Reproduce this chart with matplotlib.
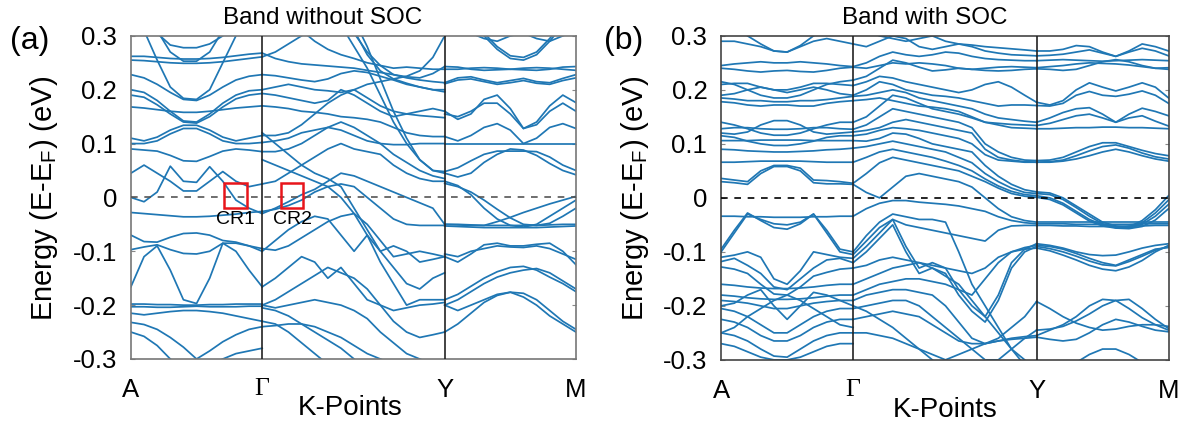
import matplotlib
matplotlib.use('Agg')
import matplotlib.pyplot as plt
from matplotlib.patches import Rectangle

# path distance of the high-symmetry points A, Γ, Y, M
k_nodes = [0.0, 1.0, 2.39, 3.39]
k_labels = ['A', 'Γ', 'Y', 'M']

# k samples along each segment
k_ag = [0.0, 0.1, 0.2, 0.3, 0.4, 0.5, 0.6, 0.7, 0.8, 0.9, 1.0]
k_gy = [1.0, 1.1, 1.2, 1.3, 1.4, 1.5, 1.6, 1.7, 1.8, 1.9, 2.0, 2.1, 2.2, 2.3, 2.39]
k_ym = [2.39, 2.49, 2.59, 2.69, 2.79, 2.89, 2.99, 3.09, 3.19, 3.29, 3.39]

# ---- bands without SOC (eV relative to E_F) ----
ag_nosoc = [
    [0.40, 0.36, 0.31, 0.27, 0.253, 0.253, 0.27, 0.31, 0.36, 0.40, 0.45],
    [0.37, 0.33, 0.305, 0.283, 0.278, 0.278, 0.285, 0.30, 0.33, 0.37, 0.40],
    [0.262, 0.262, 0.26, 0.258, 0.257, 0.257, 0.258, 0.26, 0.263, 0.266, 0.268],
    [0.255, 0.254, 0.252, 0.25, 0.249, 0.249, 0.25, 0.252, 0.255, 0.258, 0.261],
    [0.228, 0.222, 0.21, 0.195, 0.182, 0.18, 0.19, 0.205, 0.218, 0.225, 0.228],
    [0.36, 0.31, 0.255, 0.205, 0.184, 0.182, 0.20, 0.25, 0.30, 0.35, 0.40],
    [0.20, 0.195, 0.18, 0.16, 0.142, 0.14, 0.155, 0.175, 0.19, 0.198, 0.20],
    [0.19, 0.186, 0.172, 0.155, 0.14, 0.138, 0.15, 0.168, 0.183, 0.19, 0.193],
    [0.168, 0.166, 0.163, 0.16, 0.158, 0.158, 0.16, 0.163, 0.166, 0.168, 0.17],
    [0.11, 0.105, 0.112, 0.125, 0.134, 0.134, 0.125, 0.112, 0.105, 0.11, 0.115],
    [0.10, 0.10, 0.105, 0.118, 0.128, 0.128, 0.118, 0.105, 0.10, 0.10, 0.102],
    [0.09, 0.088, 0.086, 0.078, 0.068, 0.067, 0.076, 0.086, 0.09, 0.088, 0.085],
    [0.0, -0.008, 0.01, 0.058, 0.03, 0.028, 0.057, 0.03, -0.005, -0.02, -0.03],
    [0.045, 0.06, 0.045, 0.03, 0.012, 0.012, 0.03, 0.048, 0.03, 0.02, 0.025],
    [-0.028, -0.03, -0.032, -0.034, -0.036, -0.036, -0.035, -0.033, -0.031, -0.028, -0.026],
    [-0.07, -0.082, -0.083, -0.074, -0.067, -0.066, -0.07, -0.08, -0.083, -0.09, -0.10],
    [-0.097, -0.092, -0.088, -0.097, -0.104, -0.105, -0.10, -0.085, -0.085, -0.09, -0.095],
    [-0.166, -0.11, -0.09, -0.135, -0.19, -0.197, -0.15, -0.085, -0.10, -0.135, -0.166],
    [-0.198, -0.198, -0.199, -0.199, -0.2, -0.2, -0.199, -0.199, -0.198, -0.198, -0.198],
    [-0.203, -0.203, -0.204, -0.204, -0.203, -0.202, -0.203, -0.203, -0.203, -0.202, -0.202],
    [-0.215, -0.218, -0.215, -0.212, -0.21, -0.21, -0.212, -0.215, -0.22, -0.225, -0.23],
    [-0.232, -0.236, -0.245, -0.26, -0.278, -0.30, -0.32, -0.34, -0.36, -0.38, -0.40],
    [-0.25, -0.258, -0.275, -0.30, -0.32, -0.34, -0.36, -0.38, -0.40, -0.42, -0.44],
    [-0.40, -0.38, -0.36, -0.34, -0.32, -0.30, -0.285, -0.268, -0.255, -0.245, -0.24],
    [-0.42, -0.40, -0.38, -0.36, -0.34, -0.32, -0.31, -0.30, -0.29, -0.285, -0.28],
]

gy_nosoc = [
    [0.268, 0.258, 0.252, 0.248, 0.246, 0.244, 0.242, 0.24, 0.236, 0.232, 0.228, 0.224, 0.222, 0.23, 0.243],
    [0.261, 0.27, 0.285, 0.30, 0.318, 0.335, 0.35, 0.36, 0.37, 0.38, 0.39, 0.40, 0.41, 0.42, 0.43],
    [0.42, 0.39, 0.35, 0.31, 0.29, 0.275, 0.265, 0.258, 0.25, 0.245, 0.24, 0.242, 0.24, 0.238, 0.238],
    [0.45, 0.44, 0.43, 0.41, 0.39, 0.37, 0.34, 0.305, 0.27, 0.245, 0.228, 0.222, 0.218, 0.215, 0.213],
    [0.228, 0.226, 0.222, 0.218, 0.215, 0.22, 0.23, 0.235, 0.232, 0.225, 0.218, 0.21, 0.205, 0.20, 0.20],
    [0.50, 0.48, 0.45, 0.42, 0.39, 0.37, 0.34, 0.31, 0.265, 0.235, 0.22, 0.212, 0.205, 0.20, 0.196],
    [0.20, 0.205, 0.21, 0.205, 0.20, 0.198, 0.195, 0.20, 0.21, 0.215, 0.22, 0.225, 0.235, 0.26, 0.30],
    [0.193, 0.19, 0.185, 0.18, 0.175, 0.18, 0.20, 0.19, 0.175, 0.16, 0.15, 0.155, 0.16, 0.165, 0.16],
    [0.17, 0.168, 0.165, 0.16, 0.158, 0.155, 0.15, 0.148, 0.145, 0.14, 0.13, 0.12, 0.115, 0.113, 0.113],
    [0.115, 0.115, 0.12, 0.135, 0.155, 0.175, 0.19, 0.20, 0.185, 0.17, 0.16, 0.155, 0.152, 0.15, 0.148],
    [0.102, 0.105, 0.11, 0.12, 0.125, 0.13, 0.125, 0.115, 0.105, 0.10, 0.098, 0.098, 0.10, 0.10, 0.10],
    [0.085, 0.085, 0.09, 0.10, 0.115, 0.13, 0.14, 0.13, 0.115, 0.10, 0.08, 0.065, 0.05, 0.04, 0.035],
    [0.025, 0.03, 0.045, 0.06, 0.075, 0.09, 0.10, 0.09, 0.085, 0.08, 0.06, 0.045, 0.035, 0.03, 0.03],
    [-0.03, -0.02, -0.008, 0.005, 0.015, 0.03, 0.045, 0.04, 0.03, 0.02, 0.01, 0.0, -0.01, -0.02, -0.05],
    [-0.026, -0.022, -0.015, -0.005, 0.01, 0.02, 0.025, 0.02, 0.0, -0.02, -0.04, -0.05, -0.052, -0.052, -0.052],
    [-0.10, -0.08, -0.06, -0.045, -0.035, -0.04, -0.07, -0.10, -0.07, -0.10, -0.13, -0.16, -0.17, -0.15, -0.14],
    [-0.095, -0.098, -0.09, -0.075, -0.06, -0.045, -0.035, -0.03, -0.05, -0.08, -0.11, -0.105, -0.10, -0.105, -0.11],
    [-0.166, -0.15, -0.13, -0.11, -0.12, -0.15, -0.13, -0.16, -0.19, -0.20, -0.21, -0.205, -0.20, -0.198, -0.195],
    [-0.20, -0.19, -0.175, -0.16, -0.145, -0.13, -0.14, -0.15, -0.17, -0.20, -0.23, -0.25, -0.26, -0.255, -0.25],
    [-0.20, -0.205, -0.20, -0.195, -0.19, -0.195, -0.20, -0.21, -0.225, -0.25, -0.27, -0.29, -0.30, -0.31, -0.32],
    [-0.205, -0.21, -0.22, -0.235, -0.25, -0.265, -0.28, -0.30, -0.32, -0.34, -0.36, -0.38, -0.40, -0.42, -0.44],
    [-0.23, -0.235, -0.25, -0.27, -0.29, -0.31, -0.33, -0.35, -0.37, -0.39, -0.41, -0.43, -0.45, -0.47, -0.49],
    [-0.24, -0.238, -0.235, -0.235, -0.24, -0.25, -0.26, -0.275, -0.29, -0.30, -0.31, -0.32, -0.33, -0.34, -0.35],
    [0.45, 0.43, 0.41, 0.39, 0.37, 0.35, 0.32, 0.28, 0.24, 0.19, 0.14, 0.10, 0.07, 0.05, 0.048],
    [0.50, 0.48, 0.46, 0.44, 0.42, 0.40, 0.37, 0.33, 0.28, 0.22, 0.16, 0.11, 0.07, 0.05, 0.045],
    [0.12, 0.10, 0.08, 0.06, 0.045, 0.035, 0.02, -0.02, -0.06, -0.10, -0.09, -0.10, -0.12, -0.115, -0.11],
    [0.07, 0.06, 0.05, 0.04, 0.03, 0.02, 0.0, -0.03, -0.07, -0.12, -0.16, -0.20, -0.19, -0.19, -0.19],
]

ym_nosoc = [
    [0.38, 0.36, 0.33, 0.30, 0.275, 0.258, 0.255, 0.265, 0.29, 0.32, 0.35],
    [0.385, 0.365, 0.335, 0.305, 0.28, 0.263, 0.26, 0.27, 0.295, 0.325, 0.355],
    [0.32, 0.31, 0.305, 0.295, 0.29, 0.30, 0.305, 0.295, 0.29, 0.30, 0.31],
    [0.243, 0.242, 0.238, 0.236, 0.237, 0.238, 0.237, 0.236, 0.238, 0.242, 0.243],
    [0.238, 0.238, 0.24, 0.241, 0.24, 0.238, 0.24, 0.241, 0.24, 0.238, 0.236],
    [0.213, 0.222, 0.224, 0.218, 0.213, 0.217, 0.221, 0.215, 0.213, 0.221, 0.228],
    [0.211, 0.218, 0.22, 0.215, 0.21, 0.213, 0.217, 0.212, 0.21, 0.217, 0.222],
    [0.16, 0.145, 0.155, 0.182, 0.19, 0.165, 0.128, 0.14, 0.17, 0.19, 0.176],
    [0.155, 0.15, 0.16, 0.175, 0.175, 0.155, 0.128, 0.135, 0.16, 0.175, 0.16],
    [0.113, 0.105, 0.115, 0.13, 0.137, 0.125, 0.10, 0.11, 0.13, 0.137, 0.128],
    [0.10, 0.10, 0.10, 0.10, 0.10, 0.10, 0.10, 0.10, 0.10, 0.10, 0.10],
    [0.048, 0.055, 0.068, 0.08, 0.086, 0.086, 0.086, 0.085, 0.075, 0.06, 0.05],
    [0.045, 0.038, 0.045, 0.065, 0.08, 0.09, 0.088, 0.078, 0.063, 0.05, 0.042],
    [0.03, 0.022, 0.005, -0.02, -0.04, -0.052, -0.055, -0.05, -0.035, -0.02, -0.005],
    [0.026, 0.02, 0.01, -0.005, -0.022, -0.038, -0.05, -0.052, -0.048, -0.035, -0.02],
    [-0.05, -0.051, -0.052, -0.052, -0.045, -0.037, -0.028, -0.02, -0.012, -0.005, 0.002],
    [-0.05, -0.05, -0.051, -0.052, -0.052, -0.052, -0.052, -0.052, -0.051, -0.05, -0.05],
    [-0.053, -0.054, -0.055, -0.056, -0.056, -0.056, -0.056, -0.056, -0.055, -0.054, -0.053],
    [-0.11, -0.12, -0.105, -0.088, -0.085, -0.09, -0.09, -0.087, -0.085, -0.10, -0.125],
    [-0.105, -0.11, -0.10, -0.095, -0.09, -0.092, -0.093, -0.09, -0.095, -0.105, -0.115],
    [-0.19, -0.18, -0.165, -0.15, -0.138, -0.13, -0.128, -0.135, -0.148, -0.16, -0.175],
    [-0.20, -0.19, -0.175, -0.16, -0.148, -0.14, -0.135, -0.132, -0.14, -0.155, -0.17],
    [-0.25, -0.235, -0.215, -0.195, -0.182, -0.176, -0.178, -0.19, -0.21, -0.23, -0.245],
    [-0.20, -0.21, -0.20, -0.19, -0.18, -0.176, -0.185, -0.20, -0.22, -0.235, -0.25],
]

# ---- bands with SOC ----
ag_soc = [
    [0.33, 0.32, 0.30, 0.285, 0.272, 0.27, 0.282, 0.30, 0.315, 0.325, 0.33],
    [0.29, 0.29, 0.285, 0.28, 0.272, 0.27, 0.28, 0.29, 0.295, 0.29, 0.285],
    [0.245, 0.248, 0.25, 0.252, 0.25, 0.25, 0.252, 0.25, 0.248, 0.245, 0.243],
    [0.24, 0.238, 0.235, 0.233, 0.235, 0.236, 0.234, 0.233, 0.236, 0.24, 0.242],
    [0.215, 0.21, 0.20, 0.19, 0.185, 0.185, 0.19, 0.20, 0.21, 0.215, 0.218],
    [0.21, 0.212, 0.212, 0.205, 0.20, 0.20, 0.205, 0.212, 0.212, 0.21, 0.208],
    [0.19, 0.193, 0.20, 0.205, 0.20, 0.195, 0.20, 0.205, 0.20, 0.193, 0.19],
    [0.185, 0.183, 0.18, 0.18, 0.178, 0.178, 0.18, 0.18, 0.182, 0.185, 0.188],
    [0.178, 0.176, 0.172, 0.17, 0.172, 0.172, 0.17, 0.17, 0.175, 0.178, 0.18],
    [0.12, 0.118, 0.122, 0.135, 0.143, 0.143, 0.135, 0.122, 0.118, 0.12, 0.122],
    [0.14, 0.135, 0.128, 0.12, 0.116, 0.116, 0.12, 0.128, 0.135, 0.14, 0.14],
    [0.128, 0.13, 0.13, 0.128, 0.127, 0.127, 0.128, 0.13, 0.13, 0.128, 0.127],
    [0.106, 0.106, 0.106, 0.107, 0.107, 0.107, 0.107, 0.106, 0.106, 0.106, 0.106],
    [0.115, 0.112, 0.105, 0.10, 0.097, 0.097, 0.10, 0.105, 0.112, 0.115, 0.115],
    [0.09, 0.089, 0.087, 0.086, 0.085, 0.085, 0.086, 0.087, 0.089, 0.09, 0.092],
    [0.066, 0.066, 0.067, 0.068, 0.068, 0.068, 0.068, 0.067, 0.066, 0.066, 0.066],
    [0.036, 0.033, 0.03, 0.05, 0.06, 0.06, 0.055, 0.033, 0.032, 0.03, 0.027],
    [0.03, 0.028, 0.025, 0.045, 0.058, 0.058, 0.05, 0.028, 0.026, 0.026, 0.025],
    [-0.034, -0.034, -0.035, -0.035, -0.036, -0.036, -0.036, -0.035, -0.035, -0.034, -0.034],
    [-0.095, -0.06, -0.028, -0.042, -0.055, -0.058, -0.048, -0.03, -0.06, -0.095, -0.10],
    [-0.10, -0.065, -0.03, -0.04, -0.048, -0.05, -0.045, -0.03, -0.065, -0.10, -0.105],
    [-0.11, -0.106, -0.10, -0.11, -0.15, -0.16, -0.135, -0.10, -0.105, -0.11, -0.112],
    [-0.118, -0.112, -0.125, -0.14, -0.165, -0.17, -0.15, -0.13, -0.115, -0.112, -0.12],
    [-0.128, -0.132, -0.14, -0.16, -0.178, -0.18, -0.165, -0.145, -0.138, -0.132, -0.13],
    [-0.16, -0.162, -0.165, -0.167, -0.168, -0.168, -0.167, -0.165, -0.162, -0.16, -0.16],
    [-0.18, -0.182, -0.185, -0.187, -0.188, -0.188, -0.187, -0.185, -0.182, -0.18, -0.18],
    [-0.20, -0.195, -0.18, -0.17, -0.20, -0.225, -0.20, -0.175, -0.18, -0.19, -0.20],
    [-0.25, -0.24, -0.22, -0.205, -0.19, -0.18, -0.19, -0.205, -0.22, -0.235, -0.24],
    [-0.19, -0.192, -0.195, -0.20, -0.205, -0.205, -0.20, -0.195, -0.192, -0.19, -0.19],
    [-0.205, -0.21, -0.22, -0.235, -0.25, -0.25, -0.235, -0.22, -0.21, -0.205, -0.205],
    [-0.225, -0.23, -0.24, -0.255, -0.265, -0.265, -0.255, -0.24, -0.23, -0.225, -0.225],
    [-0.25, -0.255, -0.265, -0.28, -0.293, -0.295, -0.28, -0.265, -0.255, -0.25, -0.25],
    [-0.27, -0.275, -0.285, -0.295, -0.30, -0.30, -0.295, -0.285, -0.275, -0.27, -0.27],
]

gy_soc = [
    [0.33, 0.31, 0.30, 0.295, 0.29, 0.295, 0.30, 0.29, 0.285, 0.283, 0.28, 0.278, 0.276, 0.274, 0.272],
    [0.285, 0.28, 0.29, 0.30, 0.295, 0.28, 0.275, 0.28, 0.285, 0.28, 0.272, 0.268, 0.265, 0.264, 0.263],
    [0.243, 0.25, 0.262, 0.27, 0.265, 0.262, 0.265, 0.27, 0.268, 0.262, 0.258, 0.256, 0.255, 0.254, 0.254],
    [0.242, 0.24, 0.245, 0.25, 0.248, 0.25, 0.248, 0.245, 0.24, 0.238, 0.24, 0.242, 0.243, 0.242, 0.241],
    [0.218, 0.225, 0.24, 0.255, 0.25, 0.242, 0.235, 0.237, 0.24, 0.238, 0.236, 0.235, 0.236, 0.238, 0.239],
    [0.208, 0.215, 0.225, 0.222, 0.215, 0.21, 0.205, 0.20, 0.195, 0.20, 0.21, 0.215, 0.205, 0.19, 0.177],
    [0.19, 0.20, 0.215, 0.21, 0.20, 0.195, 0.19, 0.188, 0.185, 0.18, 0.175, 0.17, 0.172, 0.172, 0.171],
    [0.188, 0.19, 0.195, 0.20, 0.195, 0.185, 0.18, 0.175, 0.17, 0.165, 0.155, 0.148, 0.145, 0.142, 0.14],
    [0.18, 0.182, 0.185, 0.18, 0.175, 0.17, 0.168, 0.165, 0.16, 0.15, 0.14, 0.138, 0.136, 0.135, 0.134],
    [0.14, 0.15, 0.17, 0.19, 0.185, 0.175, 0.165, 0.16, 0.155, 0.148, 0.14, 0.135, 0.13, 0.129, 0.128],
    [0.127, 0.135, 0.15, 0.165, 0.16, 0.155, 0.15, 0.145, 0.14, 0.13, 0.10, 0.085, 0.075, 0.07, 0.069],
    [0.122, 0.125, 0.13, 0.14, 0.145, 0.14, 0.135, 0.13, 0.125, 0.12, 0.09, 0.075, 0.07, 0.067, 0.066],
    [0.115, 0.118, 0.125, 0.13, 0.128, 0.125, 0.12, 0.115, 0.11, 0.10, 0.08, 0.07, 0.068, 0.066, 0.066],
    [0.106, 0.105, 0.11, 0.12, 0.118, 0.11, 0.10, 0.095, 0.09, 0.085, 0.06, 0.04, 0.025, 0.015, 0.011],
    [0.092, 0.095, 0.10, 0.105, 0.10, 0.095, 0.09, 0.085, 0.075, 0.065, 0.045, 0.03, 0.018, 0.01, 0.008],
    [0.066, 0.075, 0.085, 0.09, 0.085, 0.08, 0.075, 0.068, 0.06, 0.05, 0.035, 0.022, 0.012, 0.006, 0.004],
    [0.027, 0.045, 0.065, 0.075, 0.07, 0.065, 0.06, 0.055, 0.05, 0.04, 0.03, 0.018, 0.008, 0.003, 0.001],
    [0.025, 0.01, 0.0, 0.02, 0.04, 0.045, 0.04, 0.035, 0.03, 0.02, 0.0, -0.02, -0.035, -0.042, -0.045],
    [-0.034, -0.02, -0.01, -0.005, -0.005, -0.008, -0.01, -0.012, -0.015, -0.02, -0.025, -0.035, -0.042, -0.046, -0.048],
    [-0.10, -0.07, -0.045, -0.03, -0.035, -0.04, -0.04, -0.045, -0.10, -0.16, -0.20, -0.24, -0.28, -0.31, -0.34],
    [-0.105, -0.08, -0.055, -0.04, -0.05, -0.055, -0.06, -0.065, -0.07, -0.075, -0.08, -0.06, -0.052, -0.051, -0.051],
    [-0.112, -0.09, -0.065, -0.04, -0.09, -0.13, -0.12, -0.13, -0.17, -0.20, -0.22, -0.18, -0.12, -0.095, -0.085],
    [-0.12, -0.10, -0.075, -0.05, -0.10, -0.14, -0.13, -0.14, -0.18, -0.21, -0.23, -0.19, -0.13, -0.10, -0.09],
    [-0.13, -0.125, -0.115, -0.11, -0.115, -0.12, -0.125, -0.13, -0.135, -0.14, -0.13, -0.11, -0.10, -0.095, -0.093],
    [-0.16, -0.15, -0.14, -0.13, -0.125, -0.12, -0.13, -0.145, -0.16, -0.19, -0.22, -0.25, -0.28, -0.30, -0.32],
    [-0.18, -0.17, -0.16, -0.155, -0.15, -0.15, -0.155, -0.16, -0.17, -0.18, -0.15, -0.12, -0.10, -0.092, -0.088],
    [-0.19, -0.18, -0.175, -0.17, -0.17, -0.175, -0.18, -0.20, -0.23, -0.26, -0.27, -0.26, -0.24, -0.22, -0.192],
    [-0.20, -0.21, -0.225, -0.24, -0.26, -0.28, -0.30, -0.32, -0.34, -0.36, -0.38, -0.40, -0.42, -0.44, -0.46],
    [-0.205, -0.20, -0.195, -0.19, -0.19, -0.20, -0.22, -0.24, -0.26, -0.28, -0.30, -0.30, -0.28, -0.26, -0.245],
    [-0.225, -0.22, -0.215, -0.21, -0.215, -0.22, -0.235, -0.25, -0.265, -0.27, -0.27, -0.265, -0.26, -0.257, -0.255],
    [-0.25, -0.25, -0.255, -0.26, -0.27, -0.28, -0.29, -0.30, -0.29, -0.28, -0.27, -0.265, -0.262, -0.26, -0.258],
]

ym_soc = [
    [0.272, 0.272, 0.275, 0.282, 0.28, 0.27, 0.262, 0.272, 0.285, 0.28, 0.272],
    [0.263, 0.264, 0.266, 0.27, 0.274, 0.268, 0.262, 0.27, 0.277, 0.272, 0.263],
    [0.254, 0.255, 0.256, 0.255, 0.254, 0.253, 0.254, 0.255, 0.256, 0.255, 0.254],
    [0.241, 0.243, 0.245, 0.248, 0.25, 0.249, 0.248, 0.246, 0.243, 0.24, 0.238],
    [0.239, 0.238, 0.236, 0.238, 0.245, 0.252, 0.256, 0.252, 0.245, 0.24, 0.241],
    [0.177, 0.172, 0.18, 0.20, 0.213, 0.205, 0.198, 0.205, 0.213, 0.205, 0.185],
    [0.171, 0.17, 0.175, 0.19, 0.197, 0.19, 0.188, 0.192, 0.198, 0.19, 0.175],
    [0.14, 0.148, 0.158, 0.165, 0.167, 0.155, 0.14, 0.155, 0.166, 0.16, 0.152],
    [0.134, 0.138, 0.145, 0.152, 0.155, 0.148, 0.14, 0.148, 0.152, 0.142, 0.133],
    [0.128, 0.128, 0.129, 0.13, 0.13, 0.131, 0.131, 0.13, 0.13, 0.129, 0.128],
    [0.069, 0.07, 0.075, 0.085, 0.095, 0.102, 0.102, 0.095, 0.088, 0.082, 0.078],
    [0.066, 0.067, 0.07, 0.078, 0.087, 0.095, 0.098, 0.092, 0.083, 0.076, 0.072],
    [0.066, 0.066, 0.068, 0.072, 0.078, 0.085, 0.09, 0.085, 0.078, 0.072, 0.068],
    [0.011, 0.009, 0.0, -0.015, -0.03, -0.045, -0.052, -0.054, -0.042, -0.022, 0.004],
    [0.008, 0.006, -0.003, -0.018, -0.034, -0.048, -0.054, -0.055, -0.046, -0.028, -0.004],
    [0.004, 0.0, -0.01, -0.025, -0.04, -0.05, -0.055, -0.056, -0.049, -0.034, -0.012],
    [0.001, -0.003, -0.013, -0.028, -0.043, -0.052, -0.056, -0.057, -0.053, -0.041, -0.02],
    [-0.045, -0.045, -0.045, -0.045, -0.045, -0.045, -0.045, -0.045, -0.045, -0.045, -0.045],
    [-0.048, -0.048, -0.048, -0.049, -0.049, -0.049, -0.049, -0.049, -0.048, -0.048, -0.048],
    [-0.051, -0.051, -0.052, -0.052, -0.053, -0.053, -0.053, -0.052, -0.052, -0.051, -0.051],
    [-0.085, -0.088, -0.093, -0.10, -0.105, -0.107, -0.106, -0.10, -0.093, -0.088, -0.085],
    [-0.09, -0.094, -0.10, -0.108, -0.117, -0.124, -0.126, -0.118, -0.108, -0.097, -0.09],
    [-0.093, -0.098, -0.106, -0.115, -0.125, -0.132, -0.135, -0.128, -0.116, -0.10, -0.088],
    [-0.088, -0.09, -0.095, -0.103, -0.112, -0.12, -0.125, -0.115, -0.105, -0.095, -0.092],
    [-0.255, -0.245, -0.235, -0.22, -0.20, -0.188, -0.19, -0.205, -0.222, -0.235, -0.245],
    [-0.245, -0.243, -0.238, -0.228, -0.215, -0.20, -0.19, -0.188, -0.205, -0.225, -0.242],
    [-0.258, -0.262, -0.265, -0.262, -0.25, -0.235, -0.225, -0.23, -0.238, -0.245, -0.248],
    [-0.192, -0.205, -0.22, -0.232, -0.24, -0.245, -0.243, -0.238, -0.235, -0.235, -0.238],
    [-0.36, -0.34, -0.32, -0.305, -0.29, -0.28, -0.28, -0.29, -0.305, -0.32, -0.34],
]

# crossing regions marked in the no-SOC panel: (k_left, k_right, E_low, E_high)
cr_boxes = [(0.71, 0.885, -0.019, 0.027), (1.145, 1.313, -0.019, 0.027)]
cr_labels = ['CR1', 'CR2']

y_ticks = [0.3, 0.2, 0.1, 0, -0.1, -0.2, -0.3]
y_ticklabels = ['0.3', '0.2', '0.1', '0', '-0.1', '-0.2', '-0.3']

band_color = '#1f77b4'
sans = 'Liberation Sans'

fig = plt.figure(figsize=(11.9, 4.32), dpi=100)
ax_a = fig.add_axes([0.110, 0.169, 0.374, 0.748])
ax_b = fig.add_axes([0.606, 0.167, 0.376, 0.750])


def draw_panel(ax, segments, frame_color, fermi_color):
    for ks, bands in segments:
        for e in bands:
            ax.plot(ks, e, color=band_color, lw=1.25, solid_joinstyle='round')
    ax.axhline(0, color=fermi_color, lw=1.2, ls=(0, (4, 4)), zorder=3)
    for kn in k_nodes[1:3]:
        ax.axvline(kn, color='#222222', lw=1.2, zorder=3)
    ax.set_xlim(k_nodes[0], k_nodes[-1])
    ax.set_ylim(-0.3, 0.3)
    ax.set_yticks(y_ticks)
    ax.set_yticklabels(y_ticklabels, fontsize=18.5, family=sans)
    ax.tick_params(axis='y', direction='in', length=3, color='#888888',
                   right=True, pad=10)
    ax.set_xticks(k_nodes)
    ax.set_xticklabels([])
    ax.tick_params(axis='x', length=0)
    for s in ax.spines.values():
        s.set_color(frame_color)
        s.set_linewidth(1.2)
    for kn, lab in zip(k_nodes, k_labels):
        fam = 'Liberation Serif' if lab == 'Γ' else sans
        ax.text(kn, -0.336, lab, ha='center', va='top', fontsize=18.5,
                family=fam, transform=ax.transData, clip_on=False)


draw_panel(ax_a, [(k_ag, ag_nosoc), (k_gy, gy_nosoc), (k_ym, ym_nosoc)],
           '#777777', '#555555')
draw_panel(ax_b, [(k_ag, ag_soc), (k_gy, gy_soc), (k_ym, ym_soc)],
           '#444444', '#000000')

for (k0, k1, e0, e1), lab in zip(cr_boxes, cr_labels):
    ax_a.add_patch(Rectangle((k0, e0), k1 - k0, e1 - e0, fill=False,
                             ec='#e8151b', lw=1.8, zorder=5))
    ax_a.text((k0 + k1) / 2, e0 - 0.006, lab, ha='center', va='top',
              fontsize=14, family=sans, zorder=5)

# titles, axis labels and panel tags
fig.text(0.271, 0.958, 'Band without SOC', ha='center', va='center', fontsize=17.5, family=sans)
fig.text(0.777, 0.958, 'Band with SOC', ha='center', va='center', fontsize=17.5, family=sans)
fig.text(0.294, 0.055, 'K-Points', ha='center', va='center', fontsize=20, family=sans)
fig.text(0.794, 0.050, 'K-Points', ha='center', va='center', fontsize=20, family=sans)
ylab = 'Energy (E-E$_\\mathregular{F}$) (eV)'
fig.text(0.037, 0.54, ylab, rotation=90, ha='center', va='center', fontsize=21, family=sans)
fig.text(0.534, 0.54, ylab, rotation=90, ha='center', va='center', fontsize=21, family=sans)
fig.text(0.025, 0.905, '(a)', ha='center', va='center', fontsize=23, family=sans)
fig.text(0.524, 0.905, '(b)', ha='center', va='center', fontsize=23, family=sans)

fig.savefig('out.png', dpi=100)
